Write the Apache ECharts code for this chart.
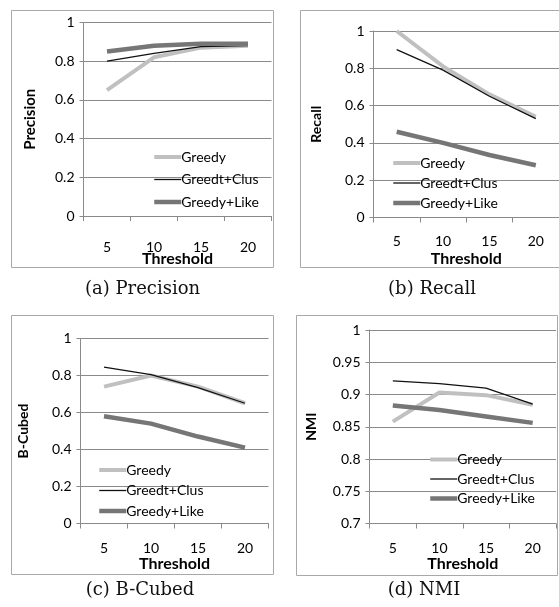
<!DOCTYPE html>
<html><head><meta charset="utf-8">
<script src="https://cdn.jsdelivr.net/npm/echarts@6/dist/echarts.min.js"></script>
<style>html,body{margin:0;padding:0;background:#fff}#c{width:559px;height:607px}</style>
</head><body><div id="c"></div>
<script>
// ---- data ----
const thresholds = ['5', '10', '15', '20'];
const seriesNames = ['Greedy', 'Greedt+Clus', 'Greedy+Like'];
const precisionGreedy = [0.65, 0.82, 0.87, 0.88];
const precisionClus   = [0.80, 0.84, 0.875, 0.88];
const precisionLike   = [0.85, 0.88, 0.89, 0.89];
const recallGreedy = [1.00, 0.81, 0.66, 0.54];
const recallClus   = [0.90, 0.79, 0.65, 0.53];
const recallLike   = [0.46, 0.40, 0.335, 0.28];
const bcubedGreedy = [0.74, 0.80, 0.74, 0.65];
const bcubedClus   = [0.845, 0.805, 0.735, 0.65];
const bcubedLike   = [0.58, 0.54, 0.47, 0.41];
const nmiGreedy = [0.858, 0.903, 0.899, 0.884];
const nmiClus   = [0.921, 0.917, 0.910, 0.885];
const nmiLike   = [0.883, 0.876, 0.866, 0.856];
const yRangePR  = [0, 1, 0.2];      // min, max, interval
const yRangeNMI = [0.7, 1, 0.05];
const yNames = ['Precision', 'Recall', 'B-Cubed', 'NMI'];
const xName = 'Threshold';
const captions = ['(a) Precision', '(b) Recall', '(c) B-Cubed', '(d) NMI'];

const panelData = [
  [precisionGreedy, precisionClus, precisionLike],
  [recallGreedy, recallClus, recallLike],
  [bcubedGreedy, bcubedClus, bcubedLike],
  [nmiGreedy, nmiClus, nmiLike]
];
const panelRanges = [yRangePR, yRangePR, yRangePR, yRangeNMI];

// ---- layout / style ----
const layout = [
  {grid: {left: 83.5, top: 22.5, width: 188, height: 193.5}, box: [11.5, 10.5, 262, 257], lblMargin: 24, xGap: 35, yGap: 46, nameSize: 15, legend: {left: 152, top: 150, gap: 8.5}, cap: [142.5, 289]},
  {grid: {left: 373.5, top: 31, width: 188, height: 186.5}, box: [300.5, 10.5, 270, 257], lblMargin: 17, xGap: 33, yGap: 50, nameSize: 14, legend: {left: 391, top: 156, gap: 6}, cap: [432, 289]},
  {grid: {left: 80.5, top: 338.5, width: 188, height: 185}, box: [11.5, 315.5, 262, 259], lblMargin: 18, xGap: 32, yGap: 50, nameSize: 14, legend: {left: 97, top: 463, gap: 6.5}, cap: [140, 590]},
  {grid: {left: 369.5, top: 330, width: 186.5, height: 193.5}, box: [296.5, 315.5, 261, 260], lblMargin: 18, xGap: 32, yGap: 51, nameSize: 14, legend: {left: 428, top: 452.5, gap: 5.5}, cap: [424, 590]}
];
const lineStyles = [
  {color: '#c0c0c0', width: 4},
  {color: '#111111', width: 1.3},
  {color: '#767676', width: 4.5}
];
const FONT = 'Lato, "Open Sans", sans-serif';
const axisGray = '#8a8a8a';

const grids = [], xAxes = [], yAxes = [], series = [], legends = [], graphics = [];
layout.forEach((L, p) => {
  grids.push(Object.assign({containLabel: false}, L.grid));
  xAxes.push({
    type: 'category', gridIndex: p, data: thresholds, boundaryGap: true,
    name: xName, nameLocation: 'middle', nameGap: L.xGap, nameMoveOverlap: false,
    nameTextStyle: {fontFamily: FONT, fontWeight: 'bold', fontSize: 16, color: '#000'},
    axisLine: {show: true, lineStyle: {color: axisGray, width: 1}},
    axisTick: {show: true, length: 5, alignWithLabel: false, lineStyle: {color: axisGray}},
    axisLabel: {margin: L.lblMargin, fontFamily: FONT, fontSize: 14, color: '#000'},
    splitLine: {show: false}
  });
  const r = panelRanges[p];
  yAxes.push({
    type: 'value', gridIndex: p, min: r[0], max: r[1], interval: r[2],
    name: yNames[p], nameLocation: 'middle', nameGap: L.yGap, nameMoveOverlap: false,
    nameTextStyle: {fontFamily: FONT, fontWeight: 'bold', fontSize: L.nameSize, color: '#000'},
    axisLine: {show: true, lineStyle: {color: axisGray, width: 1}},
    axisTick: {show: true, length: 4, lineStyle: {color: axisGray}},
    axisLabel: {margin: 9, fontFamily: FONT, fontSize: 14, color: '#000'},
    splitLine: {show: true, lineStyle: {color: axisGray, width: 1}}
  });
  seriesNames.forEach((n, k) => {
    series.push({
      type: 'line', name: n, xAxisIndex: p, yAxisIndex: p,
      data: panelData[p][k], symbol: 'none', smooth: false,
      lineStyle: {color: lineStyles[k].color, width: lineStyles[k].width},
      itemStyle: {color: lineStyles[k].color},
      z: 2 + k, animation: false
    });
  });
  legends.push({
    orient: 'vertical', left: L.legend.left, top: L.legend.top, padding: 0,
    itemGap: L.legend.gap, itemWidth: 27, itemHeight: 14, selectedMode: false,
    lineStyle: {width: 'inherit'},
    itemStyle: {opacity: 0},
    textStyle: {fontFamily: FONT, fontSize: 14, color: '#000', padding: [0, 0, 0, -5], lineHeight: 14},
    data: seriesNames.map(n => ({name: n}))
  });
  graphics.push({
    type: 'rect', silent: true,
    shape: {x: L.box[0], y: L.box[1], width: L.box[2], height: L.box[3]},
    style: {fill: 'none', stroke: '#a8a8a8', lineWidth: 1}
  });
  graphics.push({
    type: 'text', silent: true, x: L.cap[0], y: L.cap[1],
    style: {text: captions[p], align: 'center', verticalAlign: 'middle',
            font: '18px "DejaVu Serif", serif', fill: '#111'}
  });
});

const chart = echarts.init(document.getElementById('c'), null, {renderer: 'canvas'});
chart.setOption({
  animation: false,
  backgroundColor: '#fff',
  grid: grids, xAxis: xAxes, yAxis: yAxes, series: series,
  legend: legends, graphic: graphics
});
</script></body></html>
